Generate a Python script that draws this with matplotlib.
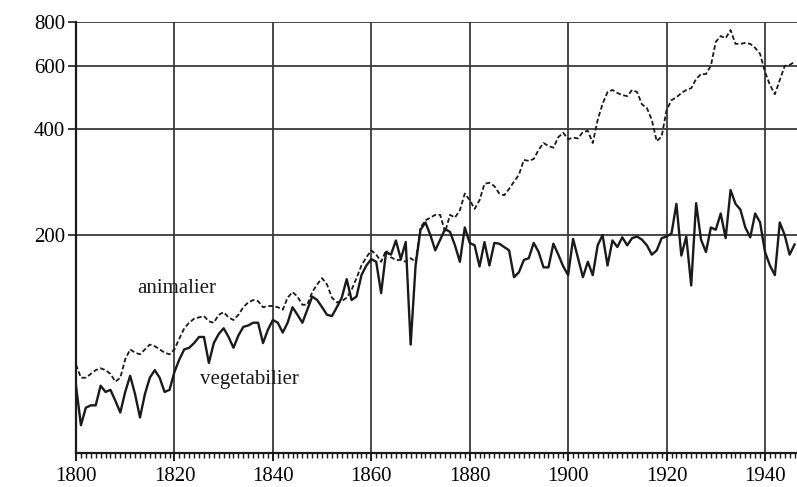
import matplotlib
matplotlib.use("Agg")
import matplotlib.pyplot as plt
from matplotlib.ticker import FixedLocator, MultipleLocator, NullFormatter, FixedFormatter

years = list(range(1800, 1947))

vegetabilier = [
    75, 58, 65, 66, 66, 75, 72, 73, 68, 63,          # 1800-1809
    72, 80, 71, 61, 71, 79, 83, 79, 72, 73,          # 1810-1819
    82, 89, 95, 96, 99, 103, 103, 87, 99, 105,       # 1820-1829
    109, 103, 96, 104, 110, 111, 113, 113, 99, 108,  # 1830-1839
    115, 113, 106, 113, 125, 119, 113, 123, 134, 131,  # 1840-1849
    125, 119, 118, 125, 133, 150, 131, 134, 154, 164,  # 1850-1859
    171, 168, 137, 179, 176, 193, 171, 191, 98, 164,   # 1860-1869
    207, 217, 200, 181, 194, 208, 204, 187, 168, 210,  # 1870-1879
    190, 187, 163, 191, 164, 190, 189, 185, 181, 152,  # 1880-1889
    157, 170, 172, 190, 179, 162, 162, 189, 176, 163,  # 1890-1899
    154, 195, 172, 152, 168, 154, 187, 200, 164, 193,  # 1900-1909
    185, 197, 187, 196, 198, 194, 187, 176, 181, 196,  # 1910-1919
    198, 202, 245, 175, 198, 144, 246, 194, 179, 210,  # 1920-1929
    207, 230, 196, 268, 245, 236, 210, 197, 230, 217,  # 1930-1939
    179, 164, 154, 217, 200, 176, 188,                 # 1940-1946
]

animalier = [
    86, 79, 79, 81, 83, 84, 83, 81, 77, 79,            # 1800-1809
    89, 95, 93, 92, 95, 98, 97, 95, 93, 92,            # 1810-1819
    95, 102, 109, 113, 116, 117, 118, 114, 113, 119,   # 1820-1829
    121, 117, 115, 119, 125, 129, 131, 130, 125, 126,  # 1830-1839
    126, 125, 123, 133, 138, 134, 127, 127, 138, 145,  # 1840-1849
    151, 145, 133, 129, 130, 133, 140, 151, 164, 173,  # 1850-1859
    181, 176, 168, 181, 173, 170, 170, 168, 172, 168,  # 1860-1869
    210, 220, 224, 228, 228, 204, 228, 224, 235, 262,  # 1870-1879
    251, 237, 251, 279, 281, 275, 262, 259, 270, 283,  # 1880-1889
    296, 326, 324, 328, 348, 364, 357, 353, 378, 389,  # 1890-1899
    373, 377, 375, 391, 394, 364, 423, 470, 507, 514,  # 1900-1909
    504, 497, 494, 514, 507, 468, 457, 423, 368, 380,  # 1910-1919
    451, 481, 490, 504, 514, 520, 552, 570, 570, 602,  # 1920-1929
    703, 730, 720, 759, 694, 694, 698, 694, 676, 650,  # 1930-1939
    578, 531, 500, 548, 601, 605, 617,                 # 1940-1946
]

y_ticks = [200, 400, 600, 800]
y_tick_labels = ["200", "400", "600", "800"]
x_ticks = [1800, 1820, 1840, 1860, 1880, 1900, 1920, 1940]
x_tick_labels = ["1800", "1820", "1840", "1860", "1880", "1900", "1920", "1940"]

label_anim = "animalier"
label_veg = "vegetabilier"

W, H = 797, 487
fig = plt.figure(figsize=(W / 100, H / 100), dpi=100)
ax = fig.add_axes([76 / W, 1 - 453 / H, 1 - 76 / W, (453 - 22) / H])

ax.set_yscale("log")
ax.set_ylim(48.4, 800)
ax.set_xlim(1800, 1946.5)

serif = ["Liberation Serif", "DejaVu Serif"]

# grid
ax.yaxis.set_major_locator(FixedLocator(y_ticks))
ax.yaxis.set_major_formatter(FixedFormatter(y_tick_labels))
ax.yaxis.set_minor_locator(FixedLocator([]))
ax.yaxis.set_minor_formatter(NullFormatter())
ax.xaxis.set_major_locator(FixedLocator(x_ticks))
ax.xaxis.set_major_formatter(FixedFormatter(x_tick_labels))
ax.xaxis.set_minor_locator(MultipleLocator(1))

ax.grid(True, which="major", color="#3a3a3a", linewidth=1.3)
ax.set_axisbelow(True)

ax.plot(years, animalier, color="#1a1a1a", linewidth=1.3,
        linestyle=(0, (2.6, 1.4)), zorder=3)
ax.plot(years, vegetabilier, color="#1a1a1a", linewidth=1.7, zorder=4)

for s in ["top", "right"]:
    ax.spines[s].set_visible(False)
for s in ["left", "bottom"]:
    ax.spines[s].set_linewidth(1.6)
    ax.spines[s].set_color("#1a1a1a")

ax.tick_params(axis="y", which="major", direction="out", length=6, width=1.2,
               pad=2, labelsize=15, color="#1a1a1a")
ax.tick_params(axis="x", which="major", direction="out", length=6, width=1.4,
               pad=4, labelsize=15, color="#1a1a1a")
ax.tick_params(axis="x", which="minor", direction="out", length=3.5, width=1.0,
               color="#1a1a1a")
for lab in ax.get_xticklabels() + ax.get_yticklabels():
    lab.set_family(serif)

ax.text(1820.4, 141, label_anim, ha="center", va="center", fontsize=15,
        family=serif, color="#1a1a1a")
ax.text(1835.2, 78.3, label_veg, ha="center", va="center", fontsize=15,
        family=serif, color="#1a1a1a")

fig.savefig("out.png", dpi=100)
